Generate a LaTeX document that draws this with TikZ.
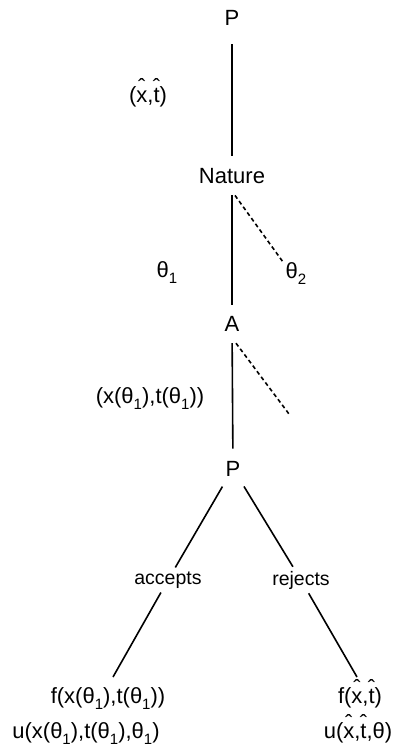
\documentclass[tikz,border=0pt]{standalone}
\usepackage{fontspec}
\setmainfont{Liberation Sans}
% lowered small index for the theta types
\newcommand\sbs[1]{\raisebox{-0.3em}{\fontsize{15}{15}\selectfont #1}}
\newcommand\thone{θ\sbs{1}}
% letter with a high, free-standing hat
\newcommand\hatd[1]{\setbox0\hbox{#1}\rlap{\hbox to\wd0{\hss\raisebox{0.36em}{\char"02C6}\hss}}\box0}
\begin{document}
\begin{tikzpicture}[x=1pt,y=-1pt,
  treenode/.style={anchor=base,inner sep=0pt,font=\fontsize{22}{26}\selectfont},
  lbl/.style={anchor=base,inner sep=0pt,font=\fontsize{22}{26}\selectfont},
  choice/.style={inner sep=4pt,font=\fontsize{19.5}{23}\selectfont},
  edge/.style={line width=1.6pt},
  chance/.style={line width=1.6pt,dash pattern=on 4pt off 3pt}]
\useasboundingbox (0,0) rectangle (414,756);

% decision nodes along the trunk
\node[treenode] (p1)  at (232,25)  {P};
\node[treenode] (nat) at (232,183) {Nature};
\node[treenode] (a)   at (232,331) {A};
\node[treenode] (p2)  at (233,476) {P};

% the principal's choice
\node[choice] (acc) at (168,580) {accepts};
\node[choice] (rej) at (301,580) {rejects};
\coordinate (lend) at (113,677);
\coordinate (rend) at (357,677);

% free ends of the dashed branches
\coordinate (d1) at (283,262);
\coordinate (d2) at (289,414);

% edges
\draw[edge,shorten <=19pt,shorten >=12pt] (p1) -- (nat);
\draw[edge,shorten <=12pt,shorten >=11pt] (nat) -- (a);
\draw[edge,shorten <=12pt,shorten >=12pt] (a) -- (p2);
\draw[chance] ([shift={(3,12)}]nat.south) -- (d1);
\draw[chance] ([shift={(4,12)}]a.south) -- (d2);
\draw[edge,shorten <=12pt] (p2) -- (acc);
\draw[edge] (acc) -- (lend);
\draw[edge,shorten <=12pt] (p2) -- (rej);
\draw[edge] (rej) -- (rend);

% edge labels
\node[lbl] (l1) at (148,102) {(\hatd{x},\hatd{t})};
\node[lbl] (l2) at (167,277) {\thone};
\node[lbl] (l3) at (296,278) {θ\sbs{2}};
\node[lbl] (l4) at (150,403) {(x(\thone),t(\thone))};

% payoffs
\node[lbl] (fl) at (108,703) {f(x(\thone),t(\thone))};
\node[lbl] (ul) at (86,738)  {u(x(\thone),t(\thone),\thone)};
\node[lbl] (fr) at (360,703) {f(\hatd{x},\hatd{t})};
\node[lbl] (ur) at (358,738) {u(\hatd{x},\hatd{t},θ)};
\end{tikzpicture}
\end{document}
